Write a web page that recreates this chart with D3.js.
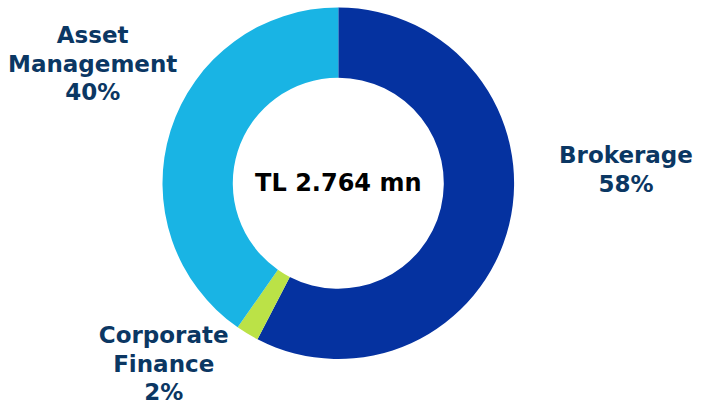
<!DOCTYPE html>
<html><head><meta charset="utf-8">
<script src="https://cdn.jsdelivr.net/npm/d3@7"></script>
<style>html,body{margin:0;padding:0;background:#fff;}svg{display:block;}</style>
</head><body>
<script>
const categories = ["Brokerage", "Corporate Finance", "Asset Management"];
const values = [57.6, 2.1, 40.3];
const percentLabels = ["58%", "2%", "40%"];
const labelLines = [["Brokerage"], ["Corporate", "Finance"], ["Asset", "Management"]];
const colors = ["#0532A0", "#BBE247", "#19B4E4"];
const centerText = "TL 2.764 mn";

const W = 704, H = 404;
const cx = 338.3, cy = 183.2, rOuter = 175.8, rInner = 105.5;
const labelPos = [{x: 626, y: 163.3}, {x: 163.7, y: 343.3}, {x: 92.7, y: 43.3}];
const lineH = 28.4;

const svg = d3.select("body").append("svg").attr("width", W).attr("height", H);
const g = svg.append("g").attr("transform", `translate(${cx},${cy})`);

const pie = d3.pie().sort(null).value(d => d);
const arc = d3.arc().innerRadius(rInner).outerRadius(rOuter);
const color = d3.scaleOrdinal().domain(categories).range(colors);

g.selectAll("path").data(pie(values)).join("path")
  .attr("d", arc)
  .attr("fill", (d, i) => color(categories[i]));

g.append("text").attr("x", 0).attr("y", 190.6 - cy)
  .attr("text-anchor", "middle")
  .attr("font-family", "DejaVu Sans, Verdana, sans-serif")
  .attr("font-weight", "bold").attr("font-size", 24).attr("fill", "#000")
  .text(centerText);

categories.forEach((c, i) => {
  const lines = labelLines[i].concat([percentLabels[i]]);
  const t = svg.append("text")
    .attr("text-anchor", "middle")
    .attr("font-family", "DejaVu Sans, Verdana, sans-serif")
    .attr("font-weight", "bold").attr("font-size", 23)
    .attr("fill", "#0B3763");
  lines.forEach((l, j) => {
    t.append("tspan").attr("x", labelPos[i].x).attr("y", labelPos[i].y + j * lineH).text(l);
  });
});
</script>
</body></html>
